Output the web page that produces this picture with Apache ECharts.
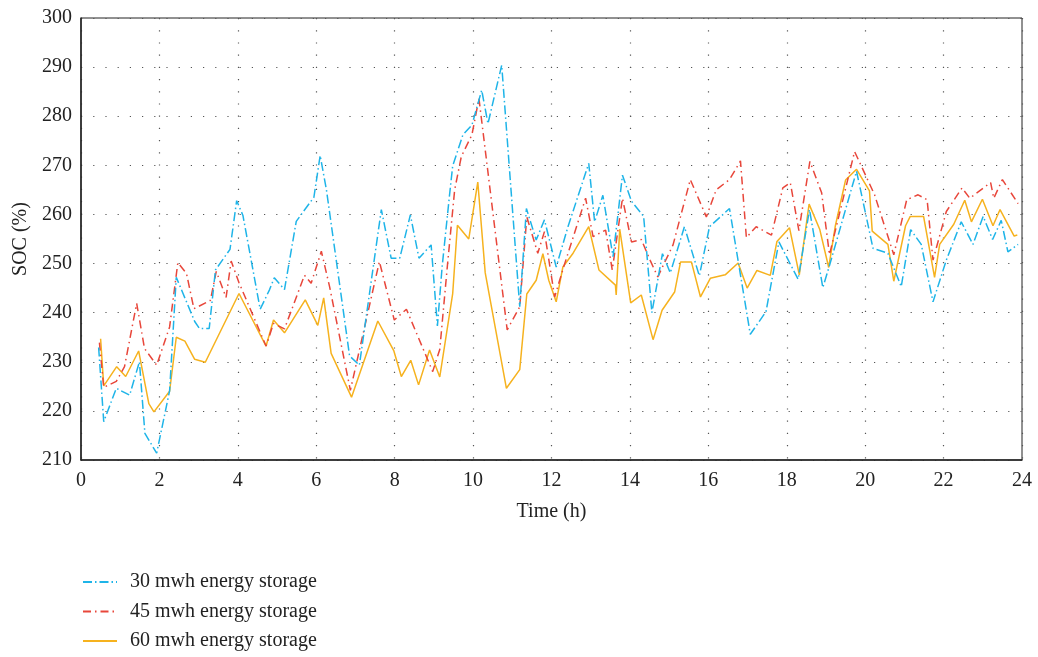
<!DOCTYPE html>
<html>
<head>
<meta charset="utf-8">
<script src="https://cdn.jsdelivr.net/npm/echarts@6/dist/echarts.min.js"></script>
<style>html,body{margin:0;padding:0;background:#fff}#c{width:1038px;height:657px}</style>
</head>
<body>
<div id="c"></div>
<script>
var seriesNames = ['30 mwh energy storage', '45 mwh energy storage', '60 mwh energy storage'];
var xTicks = [0, 2, 4, 6, 8, 10, 12, 14, 16, 18, 20, 22, 24];
var yTicks = [210, 220, 230, 240, 250, 260, 270, 280, 290, 300];

var hours30 = [0.45,0.58,0.90,1.24,1.49,1.63,1.93,2.26,2.43,2.90,3.02,3.27,3.43,3.80,3.97,4.13,4.57,4.81,4.93,5.19,5.49,5.94,6.10,6.26,6.85,7.10,7.66,7.91,8.13,8.40,8.62,8.93,9.09,9.21,9.40,9.48,9.74,9.97,10.22,10.38,10.73,11.19,11.36,11.61,11.82,12.12,12.42,12.95,13.10,13.31,13.57,13.81,14.04,14.35,14.56,14.83,15.03,15.39,15.77,16.03,16.54,17.07,17.47,17.80,18.29,18.58,18.92,19.09,19.78,20.20,20.58,20.92,21.16,21.43,21.73,22.07,22.45,22.75,23.01,23.25,23.47,23.64,23.90];
var soc30 = [232.9,217.8,224.6,223.2,230.0,215.4,211.4,224.1,247.2,238.2,236.8,236.8,248.7,252.9,262.8,259.8,240.7,244.7,247.1,244.7,258.6,263.5,272.0,265.0,231.2,229.3,261.0,251.1,251.1,259.9,251.1,253.8,237.3,249.3,264.0,269.9,276.2,278.2,285.3,278.5,290.4,241.2,261.2,254.8,258.9,249.3,257.5,270.4,258.5,263.9,251.4,268.0,262.7,259.6,240.0,252.0,248.1,257.5,247.5,257.5,261.2,235.6,240.2,254.4,246.8,261.0,245.1,249.6,268.8,253.1,252.1,245.3,256.9,253.9,242.2,250.7,258.5,253.9,259.6,254.9,258.8,252.4,253.9];

var hours45 = [0.47,0.58,0.90,1.11,1.42,1.62,1.93,2.26,2.47,2.69,2.88,3.30,3.45,3.70,3.83,4.03,4.72,4.91,5.19,5.70,5.87,6.13,6.34,6.87,7.61,7.99,8.30,8.97,9.15,9.35,9.53,9.70,9.97,10.15,10.87,11.19,11.37,11.65,11.82,12.08,12.31,12.87,13.06,13.38,13.55,13.81,14.04,14.29,14.52,14.71,15.10,15.54,15.95,16.20,16.54,16.82,16.97,17.22,17.61,17.90,18.09,18.31,18.59,18.89,19.09,19.73,19.90,20.24,20.73,21.06,21.35,21.58,21.73,22.07,22.47,22.67,23.20,23.28,23.50,23.90];
var soc45 = [233.9,224.8,226.0,229.0,241.9,232.7,229.3,237.1,250.2,248.0,240.8,242.5,248.4,243.1,250.5,246.1,233.2,237.8,236.7,247.6,246.0,252.5,245.3,224.2,250.4,238.5,240.7,228.0,232.5,250.0,265.0,271.8,276.2,283.6,236.5,241.2,259.5,252.1,256.5,243.2,249.3,263.3,255.5,256.8,248.7,263.3,254.4,254.9,250.6,247.3,253.8,267.1,259.5,265.0,267.1,270.9,255.3,257.5,255.8,265.4,266.5,256.7,270.8,264.4,251.8,272.8,269.9,264.0,251.8,263.0,264.0,263.0,250.7,260.6,265.4,263.3,266.5,263.3,267.1,262.2];

var hours60 = [0.50,0.58,0.91,1.14,1.47,1.73,1.86,2.26,2.43,2.65,2.90,3.17,4.03,4.72,4.91,5.19,5.72,6.04,6.19,6.38,6.90,7.57,7.98,8.17,8.41,8.61,8.89,9.15,9.48,9.60,9.89,10.12,10.31,10.85,11.19,11.37,11.61,11.78,11.93,12.12,12.29,12.55,12.95,13.21,13.63,13.65,13.74,14.02,14.29,14.59,14.82,15.14,15.29,15.57,15.80,16.05,16.43,16.76,16.99,17.24,17.58,17.75,18.07,18.32,18.57,18.84,19.07,19.24,19.50,19.78,20.11,20.18,20.58,20.73,21.03,21.15,21.49,21.77,21.90,22.26,22.54,22.71,22.99,23.26,23.44,23.80,23.88];
var soc60 = [234.7,225.1,229.0,227.0,232.2,221.5,219.8,224.0,235.0,234.2,230.5,229.9,243.9,233.2,238.5,235.9,242.6,237.4,243.0,231.7,222.8,238.3,232.2,227.0,230.3,225.3,232.4,226.9,243.9,257.8,255.0,266.6,248.1,224.6,228.4,243.8,246.6,252.0,246.6,242.2,249.3,252.1,257.5,248.7,245.6,243.6,257.0,242.0,243.6,234.5,240.5,244.2,250.3,250.3,243.2,247.0,247.7,250.1,245.0,248.6,247.6,254.5,257.3,247.7,262.1,257.0,249.2,257.7,267.0,269.2,264.8,256.6,253.9,246.4,257.7,259.6,259.6,247.2,253.9,258.0,262.9,258.5,263.1,257.7,261.0,255.6,255.8];

function pairs(xs, ys) { return xs.map(function (x, i) { return [x, ys[i]]; }); }

var FONT = '"Liberation Serif", "DejaVu Serif", serif';
var colors = ['#1EB4E8', '#E8463A', '#F6B21E'];
var dashes = [[9, 3, 1.5, 3], [8, 4, 1.5, 4], 'solid'];
var dataSets = [pairs(hours30, soc30), pairs(hours45, soc45), pairs(hours60, soc60)];

var chart = echarts.init(document.getElementById('c'), null, {renderer: 'canvas'});
chart.setOption({
  animation: false,
  backgroundColor: '#fff',
  grid: {left: 81, right: 16, top: 18, bottom: 197, show: true, borderColor: '#222', borderWidth: 1, backgroundColor: 'transparent'},
  xAxis: {
    type: 'value', min: xTicks[0], max: xTicks[xTicks.length - 1], interval: 2,
    name: 'Time (h)', nameLocation: 'middle', nameGap: 42,
    nameTextStyle: {fontFamily: FONT, fontSize: 20, color: '#222'},
    axisLine: {show: true, lineStyle: {color: '#222', width: 1.5}},
    axisTick: {show: false},
    axisLabel: {fontFamily: FONT, fontSize: 20, color: '#222', margin: 11},
    splitLine: {show: true, lineStyle: {color: '#555', width: 1.2, type: [1.2, 11]}}
  },
  yAxis: {
    type: 'value', min: yTicks[0], max: yTicks[yTicks.length - 1], interval: 10,
    name: 'SOC (%)', nameLocation: 'middle', nameGap: 50,
    nameTextStyle: {fontFamily: FONT, fontSize: 20, color: '#222'},
    axisLine: {show: true, lineStyle: {color: '#222', width: 1.5}},
    axisTick: {show: false},
    axisLabel: {fontFamily: FONT, fontSize: 20, color: '#222', margin: 9},
    splitLine: {show: true, lineStyle: {color: '#555', width: 1.2, type: [1.2, 11]}}
  },
  legend: {
    orient: 'vertical', left: 82, top: 572, padding: 0, itemWidth: 34, itemHeight: 12, itemGap: 9.5,
    height: 85,
    itemStyle: {opacity: 0},
    textStyle: {fontFamily: FONT, fontSize: 20, color: '#222', padding: [0, 0, 0, 8]},
    data: seriesNames
  },
  series: seriesNames.map(function (n, i) {
    return {
      name: n, type: 'line', data: dataSets[i], showSymbol: false, symbol: 'none',
      color: colors[i],
      lineStyle: {color: colors[i], width: 1.5, type: dashes[i]},
      z: 3 - i
    };
  })
});
</script>
</body>
</html>
